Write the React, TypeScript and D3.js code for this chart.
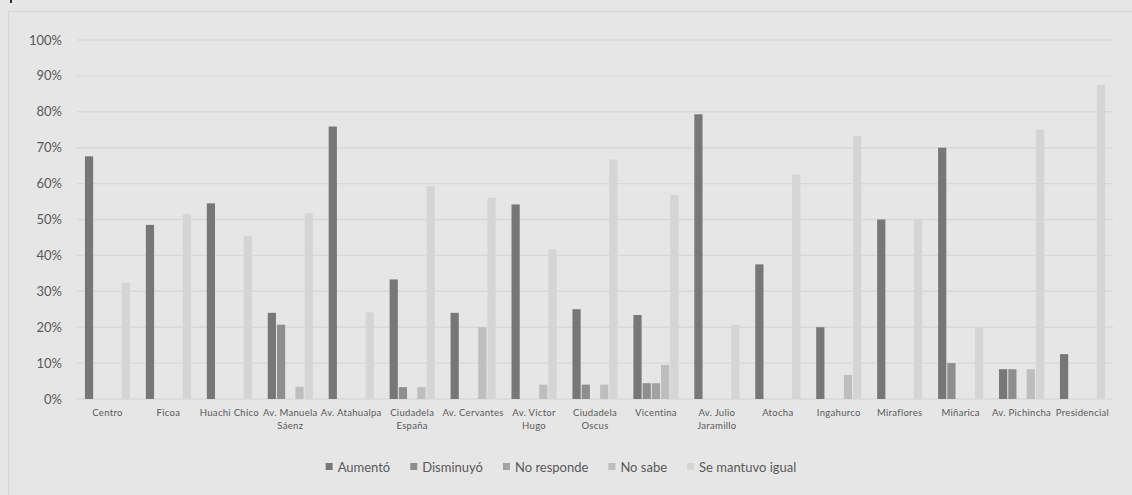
import React, { useMemo } from "react";
import * as d3 from "d3";

const categories = [
  "Centro", "Ficoa", "Huachi Chico", "Av. Manuela Sáenz", "Av. Atahualpa",
  "Ciudadela España", "Av. Cervantes", "Av. Victor Hugo", "Ciudadela Oscus",
  "Vicentina", "Av. Julio Jaramillo", "Atocha", "Ingahurco", "Miraflores",
  "Miñarica", "Av. Pichincha", "Presidencial",
];
const seriesNames = ["Aumentó", "Disminuyó", "No responde", "No sabe", "Se mantuvo igual"];
const aumento = [67.6, 48.5, 54.5, 24, 75.9, 33.3, 24, 54.2, 25, 23.4, 79.3, 37.5, 20, 50, 70, 8.3, 12.5];
const disminuyo = [0, 0, 0, 20.7, 0, 3.3, 0, 0, 4, 4.4, 0, 0, 0, 0, 10, 8.3, 0];
const noResponde = [0, 0, 0, 0, 0, 0, 0, 0, 0, 4.4, 0, 0, 0, 0, 0, 0, 0];
const noSabe = [0, 0, 0, 3.4, 0, 3.3, 20, 4, 4, 9.5, 0, 0, 6.7, 0, 0, 8.3, 0];
const seMantuvo = [32.4, 51.5, 45.5, 51.7, 24.1, 59.3, 56, 41.7, 66.7, 56.8, 20.7, 62.5, 73.3, 50, 20, 75, 87.5];
const yTicks = [0, 10, 20, 30, 40, 50, 60, 70, 80, 90, 100];
const colors = ["#777777", "#8e8e8e", "#a2a2a2", "#bebebe", "#d5d5d5"];

const seriesValues = [aumento, disminuyo, noResponde, noSabe, seMantuvo];

const FONT = "Lato, 'Open Sans', sans-serif";

function wrapLabel(text: string, maxChars: number): string[] {
  const words = text.split(" ");
  const lines: string[] = [];
  let cur = "";
  for (const w of words) {
    const cand = cur ? cur + " " + w : w;
    if (cand.length > maxChars && cur) {
      lines.push(cur);
      cur = w;
    } else cur = cand;
  }
  if (cur) lines.push(cur);
  return lines;
}

function measure(text: string, font: string): number {
  const c = document.createElement("canvas");
  const ctx = c.getContext("2d");
  if (!ctx) return text.length * 6.5;
  ctx.font = font;
  return ctx.measureText(text).width;
}

export default function App() {
  const W = 1132, H = 495;
  const left = 77, right = 1113, top = 40, bottom = 399;

  const x0 = d3.scaleBand<string>().domain(categories).range([left, right]).paddingInner(0.26).paddingOuter(0.13);
  const x1 = d3.scaleBand<string>().domain(seriesNames).range([0, x0.bandwidth()]).paddingInner(0.11);
  const y = d3.scaleLinear().domain([0, 100]).range([bottom, top]);

  const legendItems = useMemo(() => {
    const sq = 7, gapText = 5, gapItem = 20;
    const widths = seriesNames.map((s) => measure(s, `13px ${FONT}`));
    const total = widths.reduce((a, w) => a + sq + gapText + w, 0) + gapItem * (seriesNames.length - 1);
    let cx = 561 - total / 2;
    return seriesNames.map((s, i) => {
      const item = { name: s, x: cx, color: colors[i] };
      cx += sq + gapText + widths[i] + gapItem;
      return item;
    });
  }, []);

  return (
    <svg width={W} height={H} style={{ position: "absolute", left: 0, top: 0 }} fontFamily={FONT}>
      <rect x={0} y={0} width={W} height={H} fill="#e6e6e6" />
      <rect x={10} y={0} width={2} height={3} fill="#333" />
      <rect x={8.5} y={11.5} width={W + 20} height={H + 20} fill="none" stroke="#d6d6d6" strokeWidth={1.2} />
      {yTicks.map((t) => (
        <g key={t}>
          <line x1={left} x2={right} y1={y(t)} y2={y(t)} stroke="#d8d8d8" strokeWidth={1.4} />
          <text x={62} y={y(t)} dy="0.35em" textAnchor="end" fontSize={13} fill="#595959">{t}%</text>
        </g>
      ))}
      {categories.map((c, ci) => (
        <g key={c} transform={`translate(${x0(c)},0)`}>
          {seriesNames.map((s, si) => {
            const v = seriesValues[si][ci];
            if (!v) return null;
            return (
              <rect key={s} x={x1(s)} y={y(v)} width={x1.bandwidth()} height={y(0) - y(v)} fill={colors[si]} />
            );
          })}
        </g>
      ))}
      {categories.map((c) => {
        const lines = wrapLabel(c, 13);
        const cx = (x0(c) as number) + x0.bandwidth() / 2;
        return (
          <text key={c} x={cx} y={416} textAnchor="middle" fontSize={9.5} fill="#595959" letterSpacing={0.3}>
            {lines.map((l, i) => (
              <tspan key={i} x={cx} dy={i === 0 ? 0 : 13}>{l}</tspan>
            ))}
          </text>
        );
      })}
      {legendItems.map((it) => (
        <g key={it.name}>
          <rect x={it.x} y={463} width={7} height={7} fill={it.color} />
          <text x={it.x + 12} y={467} dy="0.35em" fontSize={13} fill="#595959">{it.name}</text>
        </g>
      ))}
    </svg>
  );
}
